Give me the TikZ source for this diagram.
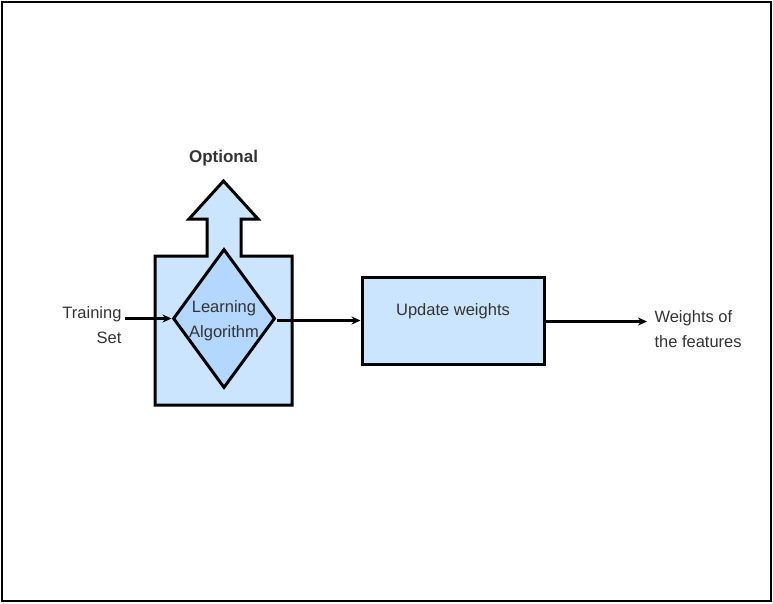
\documentclass[tikz,border=0pt]{standalone}
\usepackage{fontspec}
\setmainfont{Liberation Sans}
\usetikzlibrary{shapes.geometric,arrows.meta}
\definecolor{boxblue}{HTML}{CCE5FF}
\definecolor{algoblue}{HTML}{B3D7FF}
\definecolor{txtgray}{HTML}{333333}

\begin{document}
\begin{tikzpicture}
  [x=1pt,y=-1pt,every node/.style={font=\fontsize{16.5}{25}\selectfont,align=center,text=txtgray},
   flow/.style={line width=3.5pt,-{Stealth[length=9pt,width=8pt]}}]
  \useasboundingbox (0,0) rectangle (773,603);
  \draw[line width=1.5pt] (2,2) rectangle (771,601);

  % block with the "optional" arrow on top
  \draw[line width=3pt,fill=boxblue] (155,405) -- (155,256) -- (207,256) -- (207,219)
    -- (189,219) -- (223.5,181) -- (258,219) -- (241,219) -- (241,256) -- (292,256)
    -- (292,405) -- cycle;
  \node[font=\fontsize{17}{20}\bfseries] (opt) at (223.5,158) {Optional};

  \node[diamond,draw,line width=3pt,fill=algoblue,inner sep=0pt,
        minimum width=102pt,minimum height=139pt] (algo) at (224,318.5) {};
  \node (algotext) at (224,321) {Learning\\Algorithm};

  \node[draw,line width=3pt,fill=boxblue,minimum width=182pt,minimum height=87pt]
    (upd) at (453,320.5) {};
  \node (updtext) at (453,311) {Update weights};

  \node[anchor=east,align=right] (train) at (125,325) {Training\\Set};
  \node[anchor=west,align=left] (feat) at (651,329) {Weights of\\the features};
  \coordinate (out) at (647,321.5);

  \foreach \from/\to in {train.east/algo.west,algo.east/upd.west,upd.east/out}
    \draw[flow] (\from |- \to) -- (\to);
\end{tikzpicture}
\end{document}
